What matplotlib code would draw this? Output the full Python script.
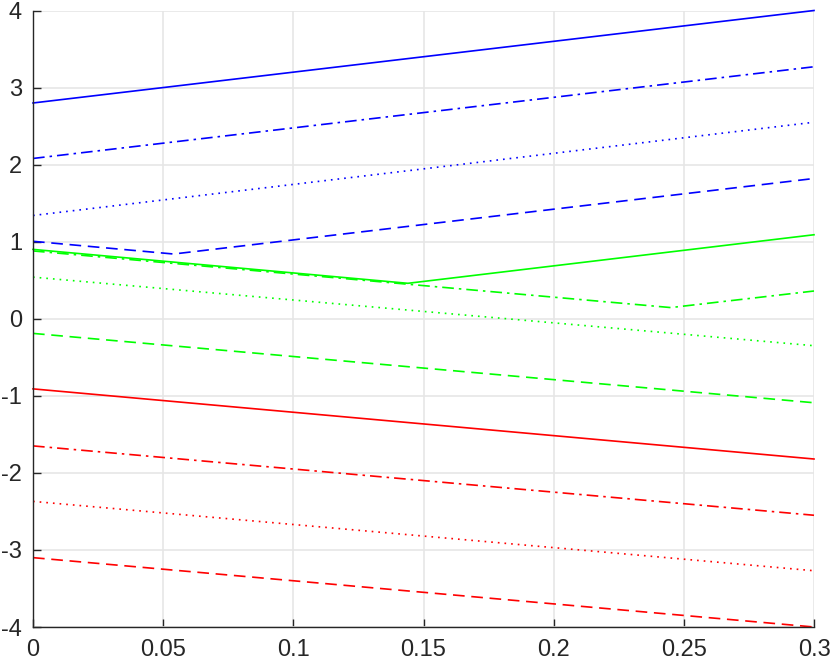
import matplotlib
matplotlib.use("Agg")
import matplotlib.pyplot as plt
from matplotlib import font_manager

names = {f.name for f in font_manager.fontManager.ttflist}
fam = 'Liberation Sans Narrow' if 'Liberation Sans Narrow' in names else 'Liberation Sans'
plt.rcParams['font.family'] = [fam, 'DejaVu Sans']

# x-breakpoints and y-values for each series
blue_solid_x = [0, 0.3];            blue_solid_y = [2.80, 4.00]
blue_dashdot_x = [0, 0.3];          blue_dashdot_y = [2.08, 3.27]
blue_dotted_x = [0, 0.3];           blue_dotted_y = [1.34, 2.55]
blue_dashed_x = [0, 0.054, 0.3];    blue_dashed_y = [1.005, 0.84, 1.82]
green_solid_x = [0, 0.144, 0.3];    green_solid_y = [0.90, 0.46, 1.09]
green_dashdot_x = [0, 0.245, 0.3];  green_dashdot_y = [0.88, 0.145, 0.36]
green_dotted_x = [0, 0.3];          green_dotted_y = [0.54, -0.35]
green_dashed_x = [0, 0.3];          green_dashed_y = [-0.19, -1.09]
red_solid_x = [0, 0.3];             red_solid_y = [-0.91, -1.82]
red_dashdot_x = [0, 0.3];           red_dashdot_y = [-1.65, -2.55]
red_dotted_x = [0, 0.3];            red_dotted_y = [-2.37, -3.27]
red_dashed_x = [0, 0.3];            red_dashed_y = [-3.10, -4.00]

xticks = [0, 0.05, 0.1, 0.15, 0.2, 0.25, 0.3]
xticklabels = ['0', '0.05', '0.1', '0.15', '0.2', '0.25', '0.3']
yticks = [-4, -3, -2, -1, 0, 1, 2, 3, 4]
yticklabels = ['-4', '-3', '-2', '-1', '0', '1', '2', '3', '4']

fig = plt.figure(figsize=(8.3, 6.63), dpi=100)
ax = fig.add_axes([33/830, 36/663, 781/830, 616.5/663])

lw = 1.2
dash = (0, (7, 4))
dashdot = (0, (7, 3, 1.5, 3))
dot = (0, (1, 3))
series = [
    (blue_solid_x, blue_solid_y, 'blue', '-'),
    (blue_dashdot_x, blue_dashdot_y, 'blue', dashdot),
    (blue_dotted_x, blue_dotted_y, 'blue', dot),
    (blue_dashed_x, blue_dashed_y, 'blue', dash),
    (green_solid_x, green_solid_y, '#00ff00', '-'),
    (green_dashdot_x, green_dashdot_y, '#00ff00', dashdot),
    (green_dotted_x, green_dotted_y, '#00ff00', dot),
    (green_dashed_x, green_dashed_y, '#00ff00', dash),
    (red_solid_x, red_solid_y, 'red', '-'),
    (red_dashdot_x, red_dashdot_y, 'red', dashdot),
    (red_dotted_x, red_dotted_y, 'red', dot),
    (red_dashed_x, red_dashed_y, 'red', dash),
]
for x, y, c, ls in series:
    ax.plot(x, y, color=c, linestyle=ls, linewidth=lw, clip_on=False)

ax.set_xlim(0, 0.3)
ax.set_ylim(-4, 4)
ax.set_xticks(xticks)
ax.set_xticklabels(xticklabels)
ax.set_yticks(yticks)
ax.set_yticklabels(yticklabels)
ax.grid(True, color='#e6e6e6', linewidth=1.2)
ax.set_axisbelow(True)
for s in ['top', 'right']:
    ax.spines[s].set_visible(False)
for s in ['left', 'bottom']:
    ax.spines[s].set_color('#262626')
    ax.spines[s].set_linewidth(1.0)
ax.tick_params(direction='in', length=6, color='#262626', labelsize=17,
               labelcolor='#262626', width=1.0)
ax.tick_params(axis='x', pad=9)
ax.tick_params(axis='y', pad=8)

fig.savefig('out.png', dpi=100)
